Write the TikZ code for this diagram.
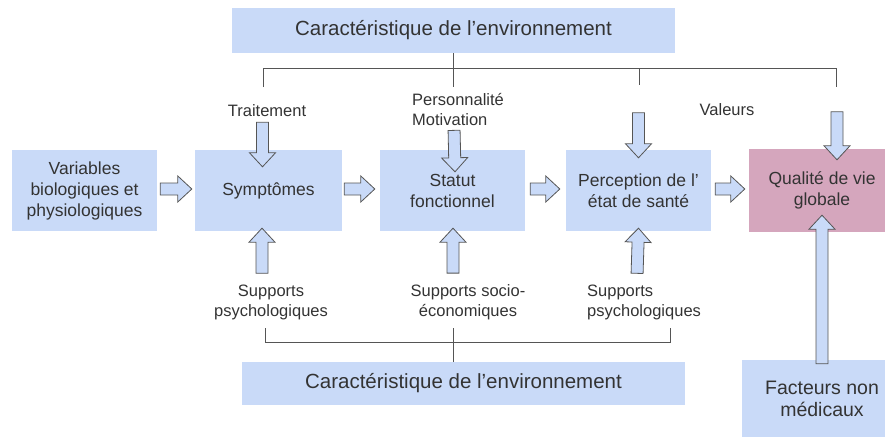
\documentclass[tikz,border=0pt]{standalone}
\usepackage{fontspec}
\setmainfont{Liberation Sans}
\usepackage{xcolor}
\usetikzlibrary{calc}

\definecolor{boxblue}{HTML}{C9DAF8}
\definecolor{boxpink}{HTML}{D5A6BD}
\definecolor{txtgray}{HTML}{333333}
\definecolor{linegray}{HTML}{555555}

% block arrow from #1 to #2 (coordinates in parentheses)
\newcommand{\blockarrow}[2]{%
  \path #1 coordinate (ba-s) #2 coordinate (ba-t);
  \coordinate (ba-p) at ($(ba-t)!14pt!(ba-s)$);
  \filldraw[barrow] ($(ba-s)!6pt!90:(ba-t)$) -- ($(ba-p)!6pt!90:(ba-t)$)
    -- ($(ba-p)!13pt!90:(ba-t)$) -- (ba-t) -- ($(ba-p)!13pt!-90:(ba-t)$)
    -- ($(ba-p)!6pt!-90:(ba-t)$) -- ($(ba-s)!6pt!-90:(ba-t)$) -- cycle;
}

\begin{document}
\begin{tikzpicture}[x=1pt,y=-1pt,
  box/.style={fill=boxblue,text=txtgray,align=center,inner sep=0pt,
    minimum height=81pt,font=\fontsize{17.5}{21}\selectfont},
  caption/.style={fill=boxblue,text=txtgray,inner sep=0pt,
    font=\fontsize{20.5}{24}\selectfont},
  lbl/.style={text=txtgray,inner sep=2pt,font=\fontsize{16.5}{20}\selectfont},
  barrow/.style={fill=boxblue,draw=linegray,line width=0.8pt,line join=miter},
  bracket/.style={draw=linegray,line width=0.9pt}]

	\useasboundingbox (0,0) rectangle (885,436);
	\clip (0,0) rectangle (885,436);

	% boxes
	\node[caption,minimum width=443pt,minimum height=45pt] (topbox) at (453.5,30.5) {Caractéristique de l’environnement};
	\node[caption,minimum width=443pt,minimum height=43pt] (botbox) at (463.5,383.5) {Caractéristique de l’environnement};
	\node[box,minimum width=145pt] (var) at (84.5,190.5) {Variables\\biologiques et\\physiologiques};
	\node[box,minimum width=147pt] (sym) at (268.5,190.5) {Symptômes};
	\node[box,minimum width=145pt] (stat) at (452.5,190.5) {Statut\\fonctionnel};
	\node[box,minimum width=145pt] (perc) at (638.5,190.5) {Perception de l’\\état de santé};
	\node[box,fill=boxpink,minimum width=146pt,minimum height=83pt] (qual) at (822,190.5) {Qualité de vie\\globale};
	\node[box,minimum width=160pt,minimum height=78pt,font=\fontsize{19.5}{22}\selectfont] (fact) at (822,399) {Facteurs non\\médicaux};

	% labels
	\node[lbl] (trait) at (267,111) {Traitement};
	\node[lbl,align=left,anchor=west] (perso) at (410,110) {Personnalité\\Motivation};
	\node[lbl] (val) at (727,110) {Valeurs};
	\node[lbl,align=center] (sup1) at (271,302) {Supports\\psychologiques};
	\node[lbl,align=center] (sup2) at (468,302) {Supports socio-\\économiques};
	\node[lbl,align=left,anchor=west] (sup3) at (585,302) {Supports\\psychologiques};

	% brackets
	\draw[bracket] (263,87) |- (836,68) -- (836,87);
	\draw[bracket] (topbox.south -| 453,0) -- (453,87);
	\draw[bracket] (639,68) -- (639,85);
	\draw[bracket] (265,328) |- (670,342) -- (670,328);
	\draw[bracket] (453,328) -- (botbox.north -| 453,0);

	% main chain
	\blockarrow{($(var.east)+(3,-1.5)$)}{($(sym.west)+(-3,-1.5)$)}
	\blockarrow{($(sym.east)+(2,-1.5)$)}{($(stat.west)+(-5,-1.5)$)}
	\blockarrow{($(stat.east)+(5,-1.5)$)}{($(perc.west)+(-6,-1.5)$)}
	\blockarrow{($(perc.east)+(4,-1.5)$)}{($(qual.west)+(-4,-1.5)$)}

	% from above
	\blockarrow{($(trait.south)+(-4.5,3)$)}{($(sym.north)+(-6,17)$)}
	\blockarrow{($(perso.south)+(-4,2)$)}{($(stat.north)+(2.5,22)$)}
	\blockarrow{($(perc.north)+(0,-37)$)}{($(perc.north)+(0,8)$)}
	\blockarrow{($(qual.north)+(15,-37)$)}{($(qual.north)+(15,11)$)}

	% from below
	\blockarrow{($(sup1.north)+(-9,-9)$)}{($(sym.south)+(-6.5,-3)$)}
	\blockarrow{($(sup2.north)+(-15,-9)$)}{($(stat.south)+(0.5,-3)$)}
	\blockarrow{($(sup3.north)+(-7,-9)$)}{($(perc.south)+(0,-3)$)}
	\blockarrow{($(fact.north)+(0,4)$)}{($(qual.south)+(0,-17)$)}
\end{tikzpicture}
\end{document}
